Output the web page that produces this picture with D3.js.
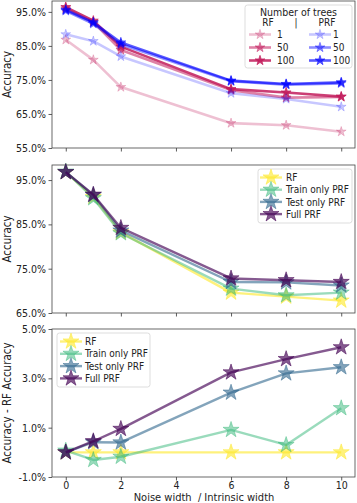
<!DOCTYPE html>
<html>
<head>
<meta charset="utf-8">
<script src="https://cdn.jsdelivr.net/npm/d3@7"></script>
<style>
  body { margin: 0; background: #fff; }
  svg text { font-family: "DejaVu Sans Condensed", "DejaVu Sans", sans-serif; fill: #222; }
</style>
</head>
<body>
<svg id="chart" width="357" height="503"></svg>
<script>
// noise width / intrinsic width
var noise = [0, 1, 2, 6, 8, 10];
var xTicks = [0, 2, 4, 6, 8, 10];

// top panel: accuracy (%) vs number of trees
var treeCounts = [1, 50, 100];
var rf1 = [86.8, 80.9, 72.9, 62.3, 61.7, 59.8];
var rf50 = [96.0, 92.0, 83.8, 72.0, 69.8, 70.0];
var rf100 = [96.4, 92.4, 84.8, 72.3, 71.3, 70.1];
var prf1 = [88.4, 86.4, 81.9, 71.1, 69.4, 67.1];
var prf50 = [95.3, 91.5, 85.5, 74.6, 73.6, 74.0];
var prf100 = [95.6, 91.9, 86.0, 74.8, 73.8, 74.3];
var yTicksTop = [55, 65, 75, 85, 95];

// middle panel: accuracy (%) per variant
var variants = ["RF", "Train only PRF", "Test only PRF", "Full PRF"];
var accRF = [96.8, 91.2, 83.2, 69.6, 68.7, 67.8];
var accTrain = [96.9, 90.9, 83.0, 70.5, 69.0, 69.6];
var accTest = [96.8, 91.6, 83.6, 72.0, 71.9, 71.2];
var accFull = [96.8, 91.7, 84.2, 72.8, 72.4, 72.0];
var yTicksMid = [65, 75, 85, 95];

// bottom panel: accuracy - RF accuracy (%)
var diffRF = [0, 0, 0, 0, 0, 0];
var diffTrain = [0.07, -0.31, -0.18, 0.91, 0.30, 1.79];
var diffTest = [0, 0.41, 0.40, 2.42, 3.20, 3.45];
var diffFull = [0, 0.45, 0.95, 3.24, 3.78, 4.26];
var yTicksBot = [-1, 1, 3, 5];

var svg = d3.select('#chart');
var left = 52, right = 355;
var x = d3.scaleLinear().domain([-0.5, 10.5]).range([left, right]);

var viridis = ['#fde725', '#35b779', '#31688e', '#440154'];
var rfColor = '#c21c5c', prfColor = '#0000ff';

function star(size) {
  return d3.symbol().type(d3.symbolStar).size(size)();
}

function panel(top, bottom, domain, ticks, fmt, label, showX) {
  var y = d3.scaleLinear().domain(domain).range([bottom, top]);
  var g = svg.append('g');

  g.append('g')
    .attr('transform', 'translate(' + left + ',0)')
    .call(d3.axisLeft(y).tickValues(ticks).tickFormat(fmt).tickSize(3.5).tickPadding(2.5))
    .call(function(a) {
      a.select('.domain').remove();
      a.selectAll('line').attr('stroke', '#333').attr('stroke-width', 0.8);
      a.selectAll('text').attr('font-size', 10.5).attr('fill', '#222');
    });

  g.append('g')
    .attr('transform', 'translate(0,' + bottom + ')')
    .call(d3.axisBottom(x).tickValues(xTicks).tickSize(3.5).tickPadding(1.5).tickFormat(showX ? d3.format('d') : ''))
    .call(function(a) {
      a.select('.domain').remove();
      a.selectAll('line').attr('stroke', '#333').attr('stroke-width', 0.8);
      a.selectAll('text').attr('font-size', 10.5).attr('fill', '#222');
    });

  g.append('rect')
    .attr('x', left).attr('y', top)
    .attr('width', right - left).attr('height', bottom - top)
    .attr('fill', 'none').attr('stroke', '#444').attr('stroke-width', 0.8);

  g.append('text')
    .attr('transform', 'translate(11,' + (top + bottom) / 2 + ') rotate(-90)')
    .attr('text-anchor', 'middle')
    .attr('font-size', 11.5)
    .text(label);

  return { g: g, y: y };
}

function series(p, values, color, alpha, width, size) {
  var line = d3.line().x(function(d, i) { return x(noise[i]); }).y(function(d) { return p.y(d); });
  p.g.append('path')
    .attr('d', line(values))
    .attr('fill', 'none')
    .attr('stroke', color)
    .attr('stroke-opacity', alpha)
    .attr('stroke-width', width)
    .attr('stroke-linejoin', 'round');
  p.g.selectAll(null)
    .data(values)
    .enter().append('path')
    .attr('d', star(size))
    .attr('transform', function(d, i) { return 'translate(' + x(noise[i]) + ',' + p.y(d) + ')'; })
    .attr('fill', color)
    .attr('fill-opacity', alpha)
    .attr('stroke', color)
    .attr('stroke-opacity', alpha)
    .attr('stroke-width', 0.8);
}

function handle(g, cx, cy, color, alpha, width, size, len) {
  g.append('line')
    .attr('x1', cx - len / 2).attr('x2', cx + len / 2)
    .attr('y1', cy).attr('y2', cy)
    .attr('stroke', color).attr('stroke-opacity', alpha).attr('stroke-width', width);
  g.append('path')
    .attr('d', star(size))
    .attr('transform', 'translate(' + cx + ',' + cy + ')')
    .attr('fill', color).attr('fill-opacity', alpha)
    .attr('stroke', color).attr('stroke-opacity', alpha).attr('stroke-width', 0.8);
}

function legendBox(g, x0, y0, w, h) {
  g.append('rect')
    .attr('x', x0).attr('y', y0).attr('width', w).attr('height', h)
    .attr('rx', 2.5)
    .attr('fill', '#fff').attr('fill-opacity', 0.8)
    .attr('stroke', '#d4d4d4').attr('stroke-width', 0.8);
}

var pct = function(d) { return d.toFixed(1) + '%'; };

// ---- top panel
var p1 = panel(1, 148, [55, 98.2], yTicksTop, pct, 'Accuracy', false);
var rfRuns = [rf1, rf50, rf100], prfRuns = [prf1, prf50, prf100];
var alphas = { rf: [0.28, 0.55, 0.85], prf: [0.22, 0.45, 0.65] };
rfRuns.forEach(function(v, i) { series(p1, v, rfColor, alphas.rf[i], 2.6, 30); });
prfRuns.forEach(function(v, i) { series(p1, v, prfColor, alphas.prf[i], 2.6, 30); });

var lg1 = p1.g.append('g');
legendBox(lg1, 245, 5, 107, 63);
lg1.append('text').attr('x', 298.5).attr('y', 15.5).attr('text-anchor', 'middle').attr('font-size', 10.5).text('Number of trees');
lg1.append('text').attr('x', 268).attr('y', 26).attr('text-anchor', 'middle').attr('font-size', 10).text('RF');
lg1.append('text').attr('x', 296).attr('y', 26).attr('text-anchor', 'middle').attr('font-size', 10).text('|');
lg1.append('text').attr('x', 327).attr('y', 26).attr('text-anchor', 'middle').attr('font-size', 10).text('PRF');
treeCounts.forEach(function(n, i) {
  var cy = 34.5 + i * 13;
  handle(lg1, 260, cy, rfColor, alphas.rf[i], 2.6, 30, 22);
  lg1.append('text').attr('x', 277).attr('y', cy + 3.8).attr('font-size', 10).text(n);
  handle(lg1, 320, cy, prfColor, alphas.prf[i], 2.6, 30, 22);
  lg1.append('text').attr('x', 333).attr('y', cy + 3.8).attr('font-size', 10).text(n);
});

// ---- middle panel
var p2 = panel(165, 313, [65, 98.4], yTicksMid, pct, 'Accuracy', false);
var accRuns = [accRF, accTrain, accTest, accFull];
var vAlpha = [0.6, 0.5, 0.6, 0.65];
accRuns.forEach(function(v, i) { series(p2, v, viridis[i], vAlpha[i], 2.4, 80); });

var lg2 = p2.g.append('g');
legendBox(lg2, 258, 169, 94, 54);
variants.forEach(function(name, i) {
  var cy = 177.5 + i * 12.2;
  handle(lg2, 271, cy, viridis[i], vAlpha[i], 2.4, 80, 22);
  lg2.append('text').attr('x', 286).attr('y', cy + 3.6).attr('font-size', 10).text(name);
});

// ---- bottom panel
var p3 = panel(329, 477, [-1, 5], yTicksBot, pct, 'Accuracy - RF Accuracy', true);
var diffRuns = [diffRF, diffTrain, diffTest, diffFull];
diffRuns.forEach(function(v, i) { series(p3, v, viridis[i], vAlpha[i], 2.4, 80); });

var lg3 = p3.g.append('g');
legendBox(lg3, 57, 333, 93, 54);
variants.forEach(function(name, i) {
  var cy = 341.5 + i * 12.3;
  handle(lg3, 71, cy, viridis[i], vAlpha[i], 2.4, 80, 22);
  lg3.append('text').attr('x', 85).attr('y', cy + 3.6).attr('font-size', 10).text(name);
});

svg.append('text')
  .attr('x', 204).attr('y', 500.5)
  .attr('text-anchor', 'middle')
  .attr('font-size', 11)
  .style('white-space', 'pre')
  .text('Noise width  / Intrinsic width');
</script>
</body>
</html>
